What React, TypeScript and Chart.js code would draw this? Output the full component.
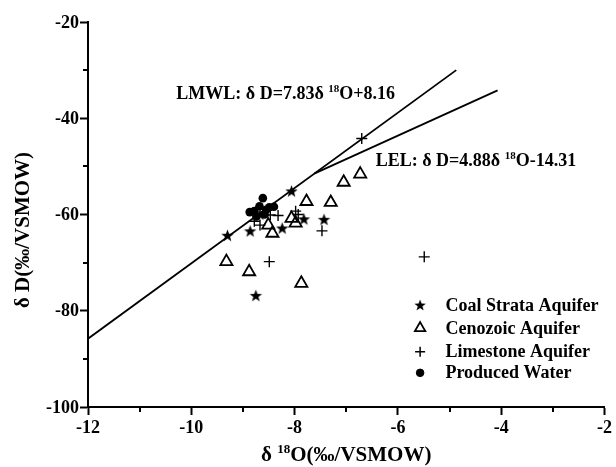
import React, { useEffect, useRef } from 'react';
import { Chart, registerables } from 'chart.js';
import { drawPoint } from 'chart.js/helpers';

Chart.register(...registerables);

const FONT = "'Liberation Serif', 'Times New Roman', serif";

// Coal Strata Aquifer
const coalX = [-9.30, -8.06, -8.86, -8.24, -7.82, -7.43, -8.75, -8.67];
const coalY = [-64.3, -55.1, -63.4, -62.8, -60.9, -61.0, -76.8, -59.9];
// Cenozoic Aquifer
const cenoX = [-9.32, -8.88, -7.87, -7.77, -7.30, -7.05, -6.73, -8.51, -8.43, -8.06, -7.98];
const cenoY = [-69.8, -71.9, -74.3, -57.3, -57.5, -53.3, -51.6, -62.2, -63.9, -60.8, -61.8];
// Limestone Aquifer
const limeX = [-8.47, -8.32, -8.78, -8.67, -7.98, -7.93, -7.47, -8.49, -6.70, -5.49];
const limeY = [-60.1, -60.2, -61.4, -62.2, -59.3, -60.0, -63.4, -69.8, -44.2, -68.8];
// Produced Water
const prodX = [-8.615, -8.68, -8.78, -8.87, -8.55, -8.58, -8.74, -8.49, -8.40];
const prodY = [-56.6, -58.3, -59.3, -59.5, -59.0, -60.0, -60.4, -58.5, -58.4];
// Fitted lines (end points)
const lmwlX = [-12, -4.87];
const lmwlY = [-85.8, -30.0];
const lelX = [-7.62, -4.07];
const lelY = [-51.5, -34.2];

const seriesLabels = ['Coal Strata Aquifer', 'Cenozoic Aquifer', 'Limestone Aquifer', 'Produced Water'];
const xMinorTicks = [-11, -9, -7, -5, -3];
const yMinorTicks = [-90, -70, -50, -30];

const yTitle = 'δ D(‰/VSMOW)';
const xTitleRuns = [{ t: 'δ ', sup: false }, { t: '18', sup: true }, { t: 'O(‰/VSMOW)', sup: false }];
const lmwlRuns = [{ t: 'LMWL: δ D=7.83δ ', sup: false }, { t: '18', sup: true }, { t: 'O+8.16', sup: false }];
const lelRuns = [{ t: 'LEL: δ D=4.88δ ', sup: false }, { t: '18', sup: true }, { t: 'O-14.31', sup: false }];

function makeStar(outer: number, inner: number): HTMLCanvasElement {
  const c = document.createElement('canvas');
  const s = Math.ceil(outer * 2 + 2);
  c.width = s;
  c.height = s;
  const g = c.getContext('2d')!;
  g.translate(s / 2, s / 2 + outer * 0.1);
  g.beginPath();
  for (let i = 0; i < 10; i++) {
    const r = i % 2 === 0 ? outer : inner;
    const a = -Math.PI / 2 + (i * Math.PI) / 5;
    const px = r * Math.cos(a);
    const py = r * Math.sin(a);
    if (i === 0) g.moveTo(px, py);
    else g.lineTo(px, py);
  }
  g.closePath();
  g.fillStyle = '#000';
  g.fill();
  return c;
}

type Run = { t: string; sup: boolean };

function runsWidth(ctx: CanvasRenderingContext2D, runs: Run[], size: number) {
  let w = 0;
  for (const r of runs) {
    ctx.font = `bold ${r.sup ? Math.round(size * 0.6) : size}px ${FONT}`;
    w += ctx.measureText(r.t).width;
  }
  return w;
}

function drawRuns(ctx: CanvasRenderingContext2D, runs: Run[], x: number, y: number, size: number) {
  let cx = x;
  ctx.textBaseline = 'alphabetic';
  ctx.textAlign = 'left';
  ctx.fillStyle = '#000';
  for (const r of runs) {
    ctx.font = `bold ${r.sup ? Math.round(size * 0.6) : size}px ${FONT}`;
    ctx.fillText(r.t, cx, r.sup ? y - size * 0.4 : y);
    cx += ctx.measureText(r.t).width;
  }
}

export default function App() {
  const ref = useRef<HTMLCanvasElement | null>(null);

  useEffect(() => {
    if (!ref.current) return;
    const star = makeStar(6.5, 2.7);
    const starLegend = makeStar(6, 2.5);

    const toPts = (xs: number[], ys: number[]) => xs.map((x, i) => ({ x, y: ys[i] }));

    const decor = {
      id: 'decor',
      afterDraw(chart: any) {
        const ctx: CanvasRenderingContext2D = chart.ctx;
        const xs = chart.scales.x;
        const ys = chart.scales.y;
        const area = chart.chartArea;
        ctx.save();
        // minor ticks
        ctx.strokeStyle = '#000';
        ctx.lineWidth = 2;
        ctx.beginPath();
        for (const v of xMinorTicks) {
          const px = Math.round(xs.getPixelForValue(v));
          ctx.moveTo(px, area.bottom);
          ctx.lineTo(px, area.bottom + 5);
        }
        for (const v of yMinorTicks) {
          const py = Math.round(ys.getPixelForValue(v));
          ctx.moveTo(area.left, py);
          ctx.lineTo(area.left - 5, py);
        }
        ctx.stroke();

        // bold tick labels
        ctx.fillStyle = '#000';
        ctx.font = `bold 18px ${FONT}`;
        ctx.textAlign = 'center';
        ctx.textBaseline = 'top';
        for (const t of xs.ticks) {
          ctx.fillText(String(t.value), xs.getPixelForValue(t.value), area.bottom + 12);
        }
        ctx.textAlign = 'right';
        ctx.textBaseline = 'middle';
        for (const t of ys.ticks) {
          ctx.fillText(String(t.value), area.left - 9, ys.getPixelForValue(t.value) + 1);
        }

        // x title
        const tw = runsWidth(ctx, xTitleRuns, 21);
        drawRuns(ctx, xTitleRuns, (area.left + area.right) / 2 - tw / 2, 461, 21);

        // y title
        ctx.save();
        ctx.translate(24, 230);
        ctx.rotate(-Math.PI / 2);
        ctx.font = `bold 21px ${FONT}`;
        ctx.textAlign = 'center';
        ctx.textBaseline = 'middle';
        ctx.fillStyle = '#000';
        ctx.fillText(yTitle, 0, 0);
        ctx.restore();

        // line annotations
        drawRuns(ctx, lmwlRuns, xs.getPixelForValue(-10.29), ys.getPixelForValue(-34.75) + 6, 18);
        drawRuns(ctx, lelRuns, xs.getPixelForValue(-6.43), ys.getPixelForValue(-48.7) + 6, 18);

        // legend
        const lx = xs.getPixelForValue(-5.57);
        const tx = xs.getPixelForValue(-5.08);
        const rowsY = [-78.8, -83.6, -88.5, -92.9];
        const styles: any[] = [
          { pointStyle: starLegend, radius: 6, borderWidth: 0 },
          { pointStyle: 'triangle', radius: 6, borderWidth: 1.8 },
          { pointStyle: 'cross', radius: 5, borderWidth: 1.5 },
          { pointStyle: 'circle', radius: 3.8, borderWidth: 1 },
        ];
        seriesLabels.forEach((lab, i) => {
          const py = ys.getPixelForValue(rowsY[i]);
          ctx.strokeStyle = '#000';
          ctx.fillStyle = i === 1 ? '#fff' : '#000';
          ctx.lineWidth = styles[i].borderWidth;
          drawPoint(ctx, { pointStyle: styles[i].pointStyle, radius: styles[i].radius, rotation: 0, borderWidth: styles[i].borderWidth }, lx, py);
          ctx.fillStyle = '#000';
          ctx.font = `bold 18px ${FONT}`;
          ctx.textAlign = 'left';
          ctx.textBaseline = 'middle';
          ctx.fillText(lab, tx, py + 1);
        });
        ctx.restore();
      },
    };

    const tickFont = { family: FONT, weight: 'bold', size: 18 };

    const chart = new Chart(ref.current, {
      type: 'scatter',
      data: {
        datasets: [
          {
            label: 'LMWL',
            data: toPts(lmwlX, lmwlY),
            showLine: true,
            borderColor: '#000',
            borderWidth: 1.8,
            pointRadius: 0,
          },
          {
            label: 'LEL',
            data: toPts(lelX, lelY),
            showLine: true,
            borderColor: '#000',
            borderWidth: 1.8,
            pointRadius: 0,
          },
          {
            label: seriesLabels[0],
            data: toPts(coalX, coalY),
            pointStyle: star,
            pointRadius: 6,
            backgroundColor: '#000',
            borderColor: '#000',
          },
          {
            label: seriesLabels[1],
            data: toPts(cenoX, cenoY),
            pointStyle: 'triangle',
            pointRadius: 7,
            backgroundColor: 'rgba(255,255,255,0)',
            borderColor: '#000',
            borderWidth: 1.8,
          },
          {
            label: seriesLabels[2],
            data: toPts(limeX, limeY),
            pointStyle: 'cross',
            pointRadius: 5.5,
            borderColor: '#000',
            borderWidth: 1.4,
          },
          {
            label: seriesLabels[3],
            data: toPts(prodX, prodY),
            pointStyle: 'circle',
            pointRadius: 4.3,
            backgroundColor: '#000',
            borderColor: '#000',
            borderWidth: 0,
          },
        ],
      } as any,
      options: {
        animation: false,
        responsive: false,
        maintainAspectRatio: false,
        devicePixelRatio: 1,
        layout: { padding: { left: 0, top: 22, right: 9, bottom: 0 } },
        plugins: { legend: { display: false }, tooltip: { enabled: false } },
        scales: {
          x: {
            type: 'linear',
            min: -12,
            max: -2,
            afterFit: (s: any) => {
              s.height = 60;
            },
            ticks: { stepSize: 2, color: 'rgba(0,0,0,0)', font: tickFont, padding: 4, maxRotation: 0 },
            grid: { drawOnChartArea: false, drawTicks: true, tickLength: 8, tickWidth: 2, tickColor: '#000' },
            border: { display: true, color: '#000', width: 2 },
          },
          y: {
            type: 'linear',
            min: -100,
            max: -20,
            afterFit: (s: any) => {
              s.width = 88;
            },
            ticks: { stepSize: 20, color: 'rgba(0,0,0,0)', font: tickFont, padding: 2 },
            grid: { drawOnChartArea: false, drawTicks: true, tickLength: 8, tickWidth: 2, tickColor: '#000' },
            border: { display: true, color: '#000', width: 2 },
          },
        },
      } as any,
      plugins: [decor],
    });
    return () => chart.destroy();
  }, []);

  return (
    <div style={{ position: 'absolute', left: 0, top: 0, width: 616, height: 467, background: '#fff' }}>
      <canvas ref={ref} width={616} height={467} style={{ width: 616, height: 467, display: 'block' }} />
    </div>
  );
}
